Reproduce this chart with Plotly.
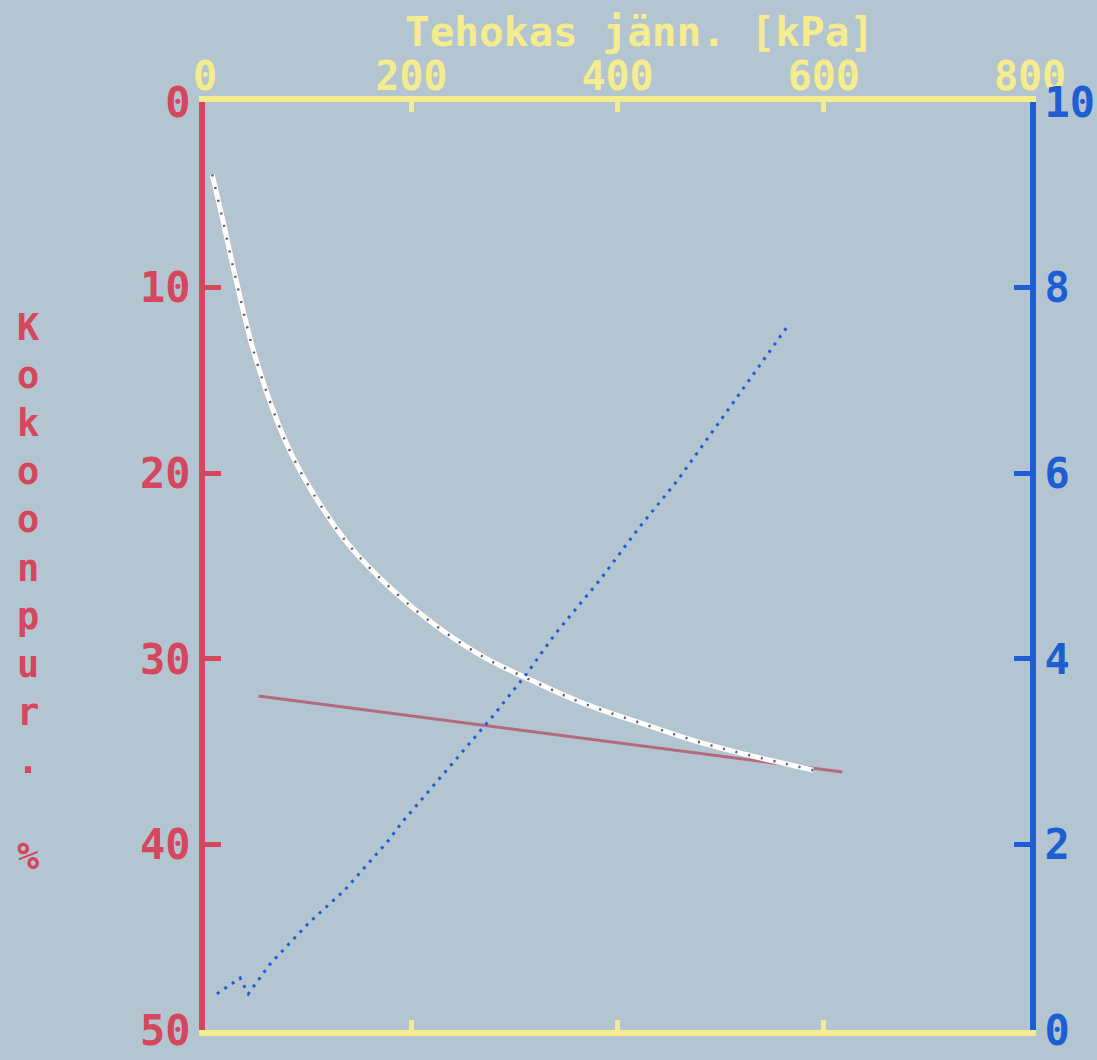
import plotly.graph_objects as go

# Settlement curve (white): effective stress [kPa] vs compression [%]
stress_curve = [7, 17, 31, 47, 70, 85, 105, 140, 182, 221, 270, 318, 367, 430, 480, 528, 590]
compr_curve = [3.9, 6.3, 9.8, 13.4, 17.2, 19.1, 21.1, 23.9, 26.3, 28.1, 29.9, 31.2, 32.4, 33.6, 34.5, 35.2, 36.0]

# Straight reference line (mauve)
stress_line = [52, 618]
compr_line = [32.0, 36.1]

# Right-axis series (blue dotted)
stress_blue = [11.6, 34, 42, 63, 102, 134, 157, 177, 192, 231, 279, 312, 339, 368, 383, 420, 458, 509, 564]
val_blue = [0.39, 0.56, 0.39, 0.71, 1.17, 1.49, 1.78, 2.03, 2.25, 2.76, 3.38, 3.84, 4.26, 4.65, 4.85, 5.40, 5.92, 6.71, 7.57]

x_ticks = [0, 200, 400, 600, 800]
yl_ticks = [0, 10, 20, 30, 40, 50]
yr_ticks = [0, 2, 4, 6, 8, 10]

x_title = "Tehokas jänn. [kPa]"
y_title_chars = ["K", "o", "k", "o", "o", "n", "p", "u", "r", ".", " ", "%"]

YELLOW = "#f5eb8f"
RED = "#d4475d"
BLUE = "#1d5fd3"
MAUVE = "#b26a7c"
BG = "#b4c5d2"
FONT = "DejaVu Sans Mono"

fig = go.Figure()
fig.add_trace(go.Scatter(x=stress_line, y=compr_line, mode="lines",
                         line=dict(color=MAUVE, width=3), showlegend=False))
fig.add_trace(go.Scatter(x=stress_curve, y=compr_curve, mode="lines", line_shape="spline",
                         line=dict(color="#ffffff", width=5), showlegend=False))
fig.add_trace(go.Scatter(x=stress_curve, y=compr_curve, mode="lines", line_shape="spline",
                         line=dict(color="#6a5866", width=2.5, dash="2px,11px"), showlegend=False))
fig.add_trace(go.Scatter(x=stress_blue, y=val_blue, mode="lines", yaxis="y2",
                         line=dict(color=BLUE, width=3, dash="3px,6px"), showlegend=False))

fig.update_layout(
    width=1097, height=1060,
    margin=dict(l=205, r=67, t=102, b=30, autoexpand=False),
    paper_bgcolor=BG, plot_bgcolor=BG,
    xaxis=dict(range=[0, 800], side="top", tickvals=x_ticks, ticktext=[str(v) for v in x_ticks],
               automargin=False,
               showgrid=False, zeroline=False, showline=True, linecolor=YELLOW, linewidth=6,
               mirror="ticks", ticks="inside", ticklen=10, tickwidth=5, tickcolor=YELLOW,
               ticklabelstandoff=-10, ticklabeloverflow="allow",
               tickfont=dict(family=FONT, size=40, color=YELLOW, weight="bold")),
    yaxis=dict(range=[50, 0], tickvals=yl_ticks, ticktext=[str(v) for v in yl_ticks],
               automargin=False,
               showgrid=False, zeroline=False, showline=True, linecolor=RED, linewidth=6,
               ticks="inside", ticklen=16, tickwidth=5, tickcolor=RED,
               ticklabeloverflow="allow",
               tickfont=dict(family=FONT, size=42, color=RED, weight="bold")),
    yaxis2=dict(range=[0, 10], overlaying="y", side="right", anchor="x",
                automargin=False,
                tickvals=yr_ticks, ticktext=[str(v) for v in yr_ticks],
                showgrid=False, zeroline=False, showline=True, linecolor=BLUE, linewidth=6,
                ticks="inside", ticklen=16, tickwidth=5, tickcolor=BLUE,
                ticklabeloverflow="allow",
                tickfont=dict(family=FONT, size=42, color=BLUE, weight="bold")),
)

fig.add_annotation(text=x_title, xref="paper", yref="paper", x=0.527, y=1.075,
                   xanchor="center", yanchor="middle", showarrow=False,
                   font=dict(family=FONT, size=41, color=YELLOW, weight="bold"))
fig.add_annotation(text="<br>".join(y_title_chars), xref="paper", yref="paper",
                   x=-0.2145, y=0.4715, xanchor="center", yanchor="middle", showarrow=False,
                   font=dict(family=FONT, size=37, color=RED, weight="bold"))

fig.write_html("out.html", config={"displayModeBar": False},
               post_script="document.body.style.margin='0';")
